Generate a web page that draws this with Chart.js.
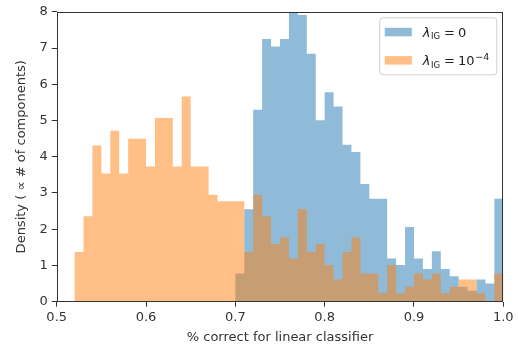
<!DOCTYPE html>
<html>
<head>
<meta charset="utf-8">
<script src="https://cdn.jsdelivr.net/npm/chart.js@4/dist/chart.umd.min.js"></script>
<style>
  html, body { margin: 0; padding: 0; background: #fff; }
  canvas { display: block; }
</style>
</head>
<body>
<canvas id="hist" width="518" height="348"></canvas>
<script>
// left edges of the histogram bins (width 0.01)
const binEdges = [0.50, 0.51, 0.52, 0.53, 0.54, 0.55, 0.56, 0.57, 0.58, 0.59,
                  0.60, 0.61, 0.62, 0.63, 0.64, 0.65, 0.66, 0.67, 0.68, 0.69,
                  0.70, 0.71, 0.72, 0.73, 0.74, 0.75, 0.76, 0.77, 0.78, 0.79,
                  0.80, 0.81, 0.82, 0.83, 0.84, 0.85, 0.86, 0.87, 0.88, 0.89,
                  0.90, 0.91, 0.92, 0.93, 0.94, 0.95, 0.96, 0.97, 0.98, 0.99]
const binWidth = 0.01

// lambda_IG = 0
const densityIG0 = [0, 0, 0, 0, 0, 0, 0, 0, 0, 0,
                    0, 0, 0, 0, 0, 0, 0, 0, 0, 0,
                    0.78, 2.55, 5.30, 7.25, 7.04, 7.25, 8.00, 7.91, 6.84, 5.01,
                    5.78, 5.39, 4.33, 4.13, 3.25, 2.84, 2.84, 1.19, 1.01, 2.06,
                    1.19, 0.90, 1.39, 0.90, 0.70, 0.41, 0.30, 0.61, 0.50, 2.84]

// lambda_IG = 1e-4
const densityIG4 = [0, 0, 1.37, 2.36, 4.31, 3.54, 4.72, 3.54, 4.50, 4.50,
                    3.73, 5.07, 5.07, 3.73, 5.66, 3.73, 3.73, 2.95, 2.77, 2.77,
                    2.77, 1.37, 2.95, 2.36, 1.59, 1.77, 1.19, 2.55, 1.37, 1.59,
                    1.01, 0.61, 1.37, 1.77, 0.78, 0.78, 0.25, 1.01, 0.23, 0.41,
                    0.78, 0.61, 0.78, 0.23, 0.41, 0.61, 0.61, 0.23, 0, 0.78]

const xTickLabels = ['0.5', '0.6', '0.7', '0.8', '0.9', '1.0']
const yTickLabels = ['0', '1', '2', '3', '4', '5', '6', '7', '8']

const blue = 'rgba(31, 119, 180, 0.5)'
const orange = 'rgba(255, 127, 14, 0.5)'
const ink = '#333333'

function toPoints(values) {
    return binEdges.map((e, i) => ({ x: e + binWidth / 2, y: values[i] }))
}

// fill all bars of a dataset as one path so the alpha has no seams between bins
const seamlessBars = {
    id: 'seamlessBars',
    beforeDatasetDraw(chart, args) {
        const { ctx, chartArea: a } = chart
        const meta = args.meta
        const color = chart.data.datasets[args.index].backgroundColor
        ctx.save()
        ctx.beginPath()
        ctx.rect(a.left, a.top, a.right - a.left, a.bottom - a.top)
        ctx.clip()
        ctx.beginPath()
        meta.data.forEach(bar => {
            const p = bar.getProps(['x', 'y', 'base', 'width'], true)
            if (Math.abs(p.base - p.y) < 0.01) return
            ctx.rect(p.x - p.width / 2, Math.min(p.y, p.base), p.width, Math.abs(p.base - p.y))
        })
        ctx.fillStyle = color
        ctx.fill()
        ctx.restore()
        return false
    }
}

// axes frame (all four spines)
const framePlugin = {
    id: 'frame',
    afterDatasetsDraw(chart) {
        const { ctx, chartArea: a } = chart
        ctx.save()
        ctx.strokeStyle = ink
        ctx.lineWidth = 1
        const l = Math.round(a.left) + 0.5, r = Math.round(a.right) - 0.5
        const t = Math.round(a.top) + 0.5, b = Math.round(a.bottom) - 0.5
        ctx.strokeRect(l, t, r - l, b - t)
        ctx.restore()
    }
}

// matplotlib style legend with subscript / superscript
const legendPlugin = {
    id: 'mathLegend',
    afterDraw(chart) {
        const { ctx, chartArea: a } = chart
        const boxR = a.right - 6.5, boxT = a.top + 6, boxW = 117, boxH = 57
        const boxL = boxR - boxW
        ctx.save()
        const rad = 3
        ctx.beginPath()
        ctx.moveTo(boxL + rad, boxT)
        ctx.arcTo(boxL + boxW, boxT, boxL + boxW, boxT + boxH, rad)
        ctx.arcTo(boxL + boxW, boxT + boxH, boxL, boxT + boxH, rad)
        ctx.arcTo(boxL, boxT + boxH, boxL, boxT, rad)
        ctx.arcTo(boxL, boxT, boxL + boxW, boxT, rad)
        ctx.closePath()
        ctx.fillStyle = 'rgba(255,255,255,0.8)'
        ctx.fill()
        ctx.strokeStyle = '#d0d0d0'
        ctx.lineWidth = 1
        ctx.stroke()

        const rows = [
            { color: blue, main: '0', sup: null },
            { color: orange, main: '10', sup: '\u22124' }
        ]
        rows.forEach((row, i) => {
            const cy = boxT + 14.2 + i * 28.3
            ctx.fillStyle = row.color
            ctx.fillRect(boxL + 5, cy - 4.2, 27, 8.5)
            let x = boxL + 43
            const base = cy + 4.6
            ctx.fillStyle = '#222'
            ctx.textBaseline = 'alphabetic'
            ctx.textAlign = 'left'
            ctx.font = 'italic 13px "DejaVu Sans"'
            ctx.fillText('\u03bb', x, base)
            x += ctx.measureText('\u03bb').width + 0.5
            ctx.font = '8.5px "DejaVu Sans"'
            ctx.fillText('IG', x, base + 2.6)
            x += ctx.measureText('IG').width + 4
            ctx.font = '13px "DejaVu Sans"'
            ctx.fillText('=', x, base)
            x += ctx.measureText('=').width + 3
            ctx.fillText(row.main, x, base)
            x += ctx.measureText(row.main).width + 0.8
            if (row.sup) {
                ctx.font = '9.5px "DejaVu Sans"'
                ctx.fillText(row.sup, x, base - 4.8)
            }
        })
        ctx.restore()
    }
}

Chart.defaults.font.family = "'DejaVu Sans', sans-serif"
Chart.defaults.font.size = 13
Chart.defaults.color = ink

new Chart(document.getElementById('hist'), {
    type: 'bar',
    data: {
        datasets: [{
            label: '\u03bb IG = 0',
            data: toPoints(densityIG0),
            backgroundColor: blue,
            order: 2
        }, {
            label: '\u03bb IG = 10^-4',
            data: toPoints(densityIG4),
            backgroundColor: orange,
            order: 1
        }]
    },
    options: {
        responsive: false,
        animation: false,
        layout: { padding: { left: 0, right: 14.7, top: 10, bottom: 0 } },
        datasets: {
            bar: {
                barPercentage: 1,
                categoryPercentage: 1,
                grouped: false,
                borderWidth: 0,
                inflateAmount: 0
            }
        },
        plugins: {
            legend: { display: false },
            tooltip: { enabled: false }
        },
        scales: {
            x: {
                type: 'linear',
                min: 0.5,
                max: 1.0,
                offset: false,
                ticks: {
                    stepSize: 0.1,
                    padding: 3,
                    color: ink,
                    callback: (v) => {
                        const i = Math.round((v - 0.5) * 10)
                        return xTickLabels[i]
                    }
                },
                grid: {
                    display: true,
                    offset: false,
                    drawOnChartArea: false,
                    drawTicks: true,
                    tickLength: 5,
                    color: ink
                },
                border: { display: false },
                title: {
                    display: true,
                    text: '% correct for linear classifier',
                    color: ink,
                    padding: { top: 0, bottom: 2.5 }
                },
                afterFit: (s) => { s.height = 46.3 }
            },
            y: {
                min: 0,
                max: 8,
                ticks: {
                    stepSize: 1,
                    padding: 4,
                    color: ink,
                    callback: (v) => yTickLabels[Math.round(v)]
                },
                grid: {
                    display: true,
                    drawOnChartArea: false,
                    drawTicks: true,
                    tickLength: 5,
                    color: ink
                },
                border: { display: false },
                title: {
                    display: true,
                    text: 'Density ( \u221d # of components)',
                    color: ink,
                    padding: { top: 14, bottom: 0 }
                },
                afterFit: (s) => { s.width = 56.7 }
            }
        }
    },
    plugins: [seamlessBars, framePlugin, legendPlugin]
});
</script>
</body>
</html>
